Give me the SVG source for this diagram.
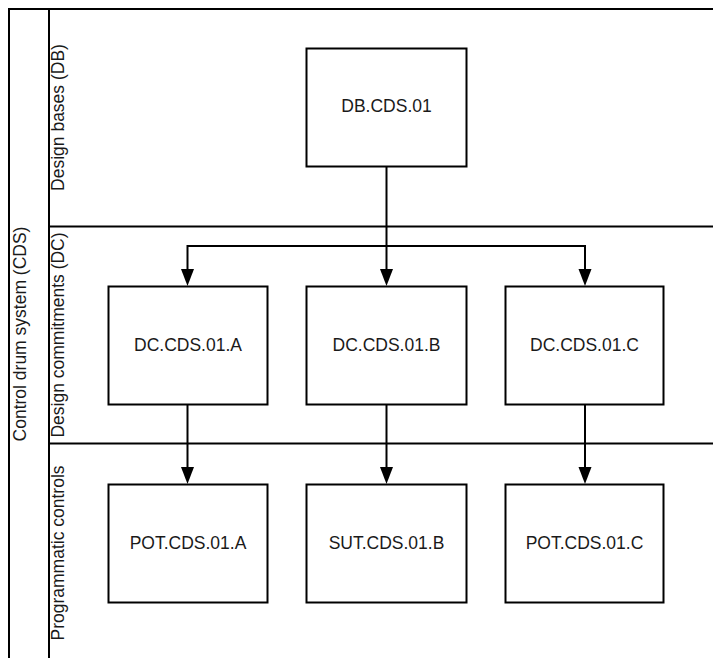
<svg xmlns="http://www.w3.org/2000/svg" width="713" height="658" viewBox="0 0 713 658">
<defs>
<style>
.ln{stroke:#000;stroke-width:2;fill:none}
.box{fill:#fff;stroke:#000;stroke-width:2}
.t{font-family:"Liberation Sans",Arial,sans-serif;font-size:17.5px;fill:#1a1a1a;text-anchor:middle;dominant-baseline:central}
.ah{fill:#000}
</style>
</defs>
<rect width="713" height="658" fill="#fff"/>
<g id="pool">
<path class="ln" d="M9,660 V9 H713"/>
<path class="ln" d="M49,9 V660"/>
<path class="ln" d="M49,226.5 H713"/>
<path class="ln" d="M49,443.5 H713"/>
<text class="t" transform="translate(20,334) rotate(-90)">Control drum system (CDS)</text>
<text class="t" transform="translate(58,117.5) rotate(-90)">Design bases (DB)</text>
<text class="t" transform="translate(58,335) rotate(-90)">Design commitments (DC)</text>
<text class="t" transform="translate(58,553) rotate(-90)">Programmatic controls</text>
</g>
<g id="connectors">
<path class="ln" d="M386.5,167 V270"/>
<path class="ln" d="M386.5,246 H187.5 V270"/>
<path class="ln" d="M386.5,246 H585 V270"/>
<path class="ah" d="M181,269 L194,269 L187.5,286 Z"/>
<path class="ah" d="M380,269 L393,269 L386.5,286 Z"/>
<path class="ah" d="M578.5,269 L591.5,269 L585,286 Z"/>
<path class="ln" d="M187.5,405 V468"/>
<path class="ln" d="M386.5,405 V468"/>
<path class="ln" d="M585,405 V468"/>
<path class="ah" d="M181,467 L194,467 L187.5,484 Z"/>
<path class="ah" d="M380,467 L393,467 L386.5,484 Z"/>
<path class="ah" d="M578.5,467 L591.5,467 L585,484 Z"/>
</g>
<g id="DB.CDS.01"><rect class="box" x="306.5" y="48.5" width="160" height="118"/><text class="t" x="386.5" y="106">DB.CDS.01</text></g>
<g id="DC.CDS.01.A"><rect class="box" x="108.5" y="286.5" width="159" height="118"/><text class="t" x="188" y="345">DC.CDS.01.A</text></g>
<g id="DC.CDS.01.B"><rect class="box" x="306.5" y="286.5" width="160" height="118"/><text class="t" x="386.5" y="345">DC.CDS.01.B</text></g>
<g id="DC.CDS.01.C"><rect class="box" x="505.5" y="286.5" width="158" height="118"/><text class="t" x="584.5" y="345">DC.CDS.01.C</text></g>
<g id="POT.CDS.01.A"><rect class="box" x="108.5" y="484.5" width="159" height="118"/><text class="t" x="188" y="543">POT.CDS.01.A</text></g>
<g id="SUT.CDS.01.B"><rect class="box" x="306.5" y="484.5" width="160" height="118"/><text class="t" x="386.5" y="543">SUT.CDS.01.B</text></g>
<g id="POT.CDS.01.C"><rect class="box" x="505.5" y="484.5" width="158" height="118"/><text class="t" x="584.5" y="543">POT.CDS.01.C</text></g>
</svg>
